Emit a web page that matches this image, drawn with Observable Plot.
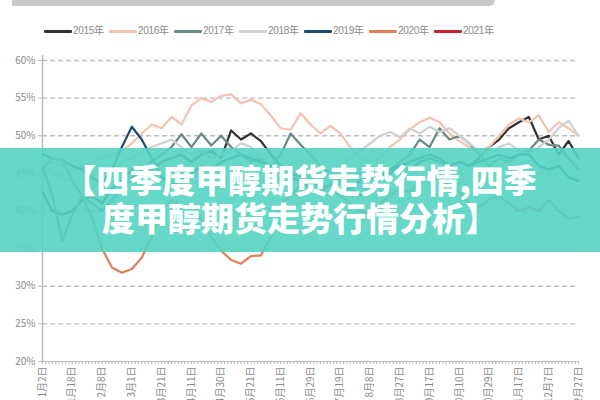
<!DOCTYPE html>
<html>
<head>
<meta charset="utf-8">
<script src="https://cdn.jsdelivr.net/npm/d3@7"></script>
<script src="https://cdn.jsdelivr.net/npm/@observablehq/plot@0.6"></script>
<style>
  html, body { margin: 0; padding: 0; background: #fff; width: 600px; height: 400px; overflow: hidden; }
  #wrap { position: relative; width: 600px; height: 400px; font-family: "Noto Sans CJK SC", "Noto Sans", sans-serif; }
  #topbar { position: absolute; left: 12px; top: 0; width: 483px; height: 6px; background: #c9c9c9; border-radius: 0 0 6px 0; }
  #legend { position: absolute; left: 44px; top: 24px; height: 14px; display: flex; align-items: center; }
  .item { display: flex; align-items: center; width: 65px; flex: none; }
  .sw { width: 28px; height: 3px; border-radius: 1px; margin-right: 1px; flex: none; }
  .lab { font-size: 10px; color: #8a8a8a; line-height: 14px; white-space: nowrap; letter-spacing: -0.3px; font-family: "Liberation Sans", "Noto Sans CJK SC", sans-serif; }
  #chart { position: absolute; left: 0; top: 45px; }
  #banner { position: absolute; left: 0; top: 148px; width: 600px; height: 104px; background: rgba(84, 212, 193, 0.9);
    color: #fff; font-weight: 900; font-size: 33px; line-height: 38px; text-align: center; box-sizing: border-box; padding-top: 12px;
    font-family: "Noto Sans CJK SC", sans-serif; }
</style>
</head>
<body>
<div id="wrap">
  <div id="topbar"></div>
  <div id="legend"></div>
  <div id="chart"></div>
  <div id="banner">【四季度甲醇期货走势行情,四季<br>度甲醇期货走势行情分析】</div>
</div>
<script>
const years = ["2015年", "2016年", "2017年", "2018年", "2019年", "2020年", "2021年"];
const colors = ["#333333", "#f2c3b3", "#6d8686", "#cdd3d3", "#1d4a72", "#e07e55", "#c8232c"];
const xLabels = ["1月2日","1月18日","2月8日","3月1日","3月21日","4月11日","4月30日","5月21日","6月11日","6月29日","7月19日","8月8日","8月27日","9月17日","10月10日","10月29日","11月17日","12月7日","12月27日"];
const yTicks = [20, 25, 30, 35, 40, 45, 50, 55, 60];

const s2015 = [42.5,40,39.5,40,41.5,42,41,43,44,45.5,46,45.5,46.5,47,47.5,46.5,47.5,48,47,50.7,49.5,50.3,49.3,47.5,46,45,44.5,44,43,43.5,44,44.5,45,44,44.5,45,46,46.5,47,47.5,47,46,46.5,46,47,48.5,49.5,51,51.8,52.5,49.5,50,47.5,49.3,47];
const s2016 = [46,46.5,46,45.5,46,46.5,47,47.5,48,49,50.3,51.5,51,52.5,51.5,54,55,54.5,55.3,55.5,54.3,54.8,54.2,52.7,51,50.8,53,51.5,50.3,51.3,50.3,48.5,47,46.5,47,48.5,49.5,50.8,51.8,52.4,51.8,50.3,49.3,48.5,48,48.5,50,51.5,52.3,51.8,52.7,50.5,51.8,51,50];
const s2017 = [46,42,36,39.5,42,41,40,41.5,43,44.5,45.5,46.5,47.5,48.5,50.2,48.5,50.3,48.7,50,48.5,47.5,46.5,47,46,47.5,50.3,48.8,47.5,46,45,44,43,42,43,44.5,45.5,46.5,47.5,49.5,48.5,51,49.5,50,49,47.5,46,47,46.5,47.5,48,49.5,48.8,48.7,47,45.5];
const s2018 = [46,45,44.5,44,42,43,44,45,46.5,47,48,48.5,49,49.5,48.5,47.5,48,47,47.5,48,49,48.5,47,46,45.5,46,45,44.5,44,45,46,47,48,49,50,50.5,49.8,51,50.3,51.2,50.5,51,50,49,48,47.5,48.5,49,48,47.5,48.5,49.5,51,52,50];
const s2019 = [47.5,47,46.8,46,45.5,44.5,43.5,45.5,48.5,51.2,49.5,47,44.5,43.5,44,45,46,45.5,46.5,47,47.5,47,46.5,46,45,44.5,44,43,42.5,43.5,42.5,43,44,45,44.5,45.5,46,45.5,46.5,47,46.5,46,46.5,46,46.5,47,47.5,47,47.5,47.5,46,45.5,46,44.5,44];
const s2020 = [45.5,47,46.8,44,42,39,35,32.5,31.8,32.3,33.8,36.5,40,41.5,40.5,41,39,36.5,34.7,33.5,33,34,34.1,36.5,41,42,43.5,44,42.5,43.5,42,41,40,39.5,41,42,43,42.5,44,45,44,43.5,42.5,41,40.5,41.5,42,41,40,40.5,40,41.5,40,39,39.2];
const s2021 = [];

const series = [s2015, s2016, s2017, s2018, s2019, s2020, s2021];
const rows = [];
series.forEach((s, k) => s.forEach((v, i) => rows.push({year: years[k], i, v})));

// legend
const leg = document.getElementById("legend");
years.forEach((y, k) => {
  const it = document.createElement("div"); it.className = "item";
  const sw = document.createElement("div"); sw.className = "sw"; sw.style.background = colors[k];
  const lb = document.createElement("div"); lb.className = "lab"; lb.textContent = y;
  it.appendChild(sw); it.appendChild(lb); leg.appendChild(it);
});

const labelTicks = xLabels.map((d, k) => k * 3);
const denseTicks = d3.range(0, 54.001, 1 / 3);

const chart = Plot.plot({
  width: 600,
  height: 355,
  marginTop: 15,
  marginLeft: 42,
  marginRight: 22,
  marginBottom: 39,
  style: {fontFamily: "'Noto Sans CJK SC', sans-serif", fontSize: "10px", color: "#8a8a8a", background: "transparent", overflow: "visible"},
  x: {domain: [0, 54]},
  y: {domain: [20, 60]},
  color: {domain: years, range: colors},
  marks: [
    Plot.gridY(yTicks.filter(d => d > 20), {stroke: "#bdbdbd", strokeOpacity: 1, strokeWidth: 1.3, strokeDasharray: "5,3"}),
    Plot.axisY(yTicks, {tickFormat: d => d + "%", tickSize: 4, tickPadding: 3, stroke: "#bdbdbd", label: null, fill: "#8a8a8a"}),
    Plot.axisX(denseTicks, {tickSize: 3, tickFormat: () => "", stroke: "#b5b5b5", label: null}),
    Plot.axisX(labelTicks, {tickSize: 0, tickPadding: 5, tickRotate: -90, tickFormat: d => xLabels[d / 3], label: null, fill: "#8a8a8a"}),
    Plot.ruleX([0], {stroke: "#bdbdbd", strokeWidth: 1.5, y1: 20, y2: 60.7}),
    Plot.ruleY([20], {stroke: "#bdbdbd", strokeWidth: 1.2}),
    Plot.line(rows, {x: "i", y: "v", z: "year", stroke: "year", strokeWidth: 2.2, strokeLinejoin: "round"})
  ]
});
document.getElementById("chart").appendChild(chart);
</script>
</body>
</html>
